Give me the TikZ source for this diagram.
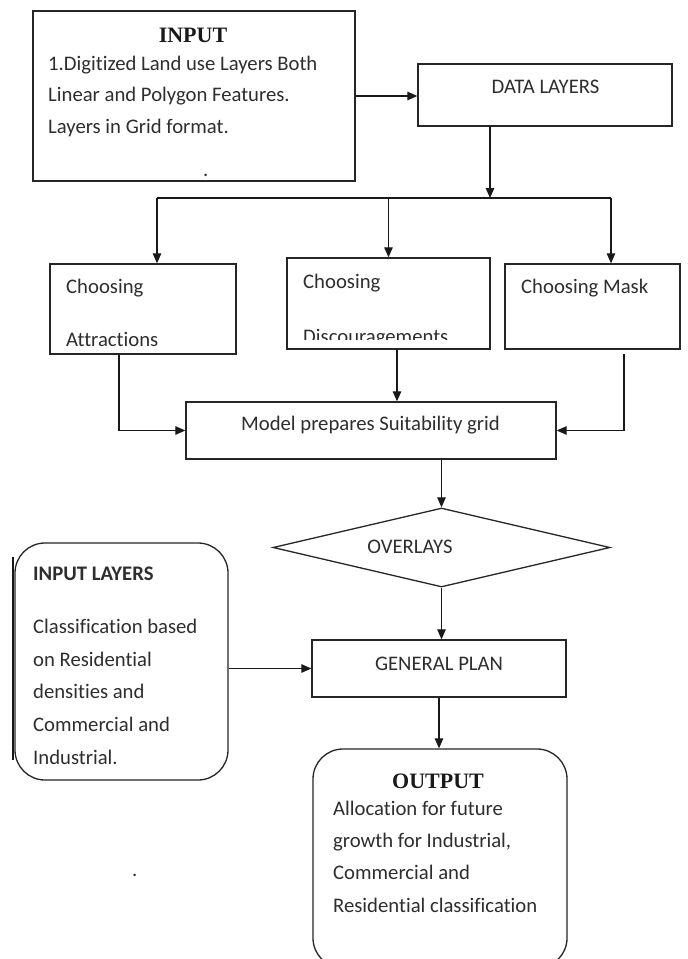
\documentclass[tikz,border=0pt]{standalone}
\usepackage{fontspec}
\setmainfont{Carlito}[Ligatures={NoCommon}]
\newfontfamily\serifttl{Liberation Serif}
\usetikzlibrary{arrows.meta,shapes.geometric}
\begin{document}
\begin{tikzpicture}[x=1pt,y=-1pt,
  box/.style 2 args={draw=black!85, line width=1.3pt, inner sep=0pt,
    minimum width=#1pt, minimum height=#2pt},
  rbox/.style 2 args={box={#1}{#2}, rounded corners=30pt},
  txt/.style={font=\fontsize{20.7}{24}\selectfont, inner sep=0pt,
    anchor=base west, text=black!82},
  ttl/.style={font=\serifttl\bfseries\fontsize{22}{26}\selectfont, inner sep=0pt,
    anchor=base, text=black!90},
  ln/.style={line width=1.2pt, draw=black!90},
  arr/.style={ln, -{Triangle[length=10pt,width=8.5pt]}}]
\useasboundingbox (0,0) rectangle (688,959);
\clip (0,0) rectangle (688,959);
\fill[white] (0,0) rectangle (688,959);

% INPUT
\node[box={322}{170}] (input) at (194,96) {};
\node[ttl] (inputT) at (193,42) {INPUT};
\node[txt] (in1) at (48,70) {1.Digitized Land use Layers Both};
\node[txt] (in2) at (48,101) {Linear and Polygon Features.};
\node[txt] (in3) at (48,133) {Layers in Grid format.};
\node[txt] (dot1) at (203,176) {.};

% DATA LAYERS
\node[box={254}{62}] (dl) at (545,95) {};
\node[txt, anchor=base] (dlT) at (545.5,93) {DATA LAYERS};

\coordinate (split) at (490,198);
\coordinate (barL) at (157,198);
\coordinate (barR) at (611,198);

% Choosing boxes
\node[box={186}{90}] (att) at (143,309) {};
\node[txt] (attT1) at (66,293) {Choosing};
\node[txt] (attT2) at (66,346) {Attractions};

\node[box={203}{91}] (dis) at (388.5,303.5) {};
\node[txt] (disT1) at (303,288) {Choosing};
\begin{scope}
  \clip (289,300) rectangle (488,339);
  \node[txt] (disT2) at (303,343) {Discouragements};
\end{scope}

\node[box={175}{85}] (mask) at (592.5,306.5) {};
\node[txt] (maskT) at (521,293) {Choosing Mask};

% Model
\node[box={370}{57}] (model) at (371,430.5) {};
\node[txt, anchor=base] (modelT) at (370.5,430) {Model prepares Suitability grid};

% Overlays
\node[diamond, draw=black!85, line width=1.3pt, inner sep=0pt,
  minimum width=337pt, minimum height=79pt] (ov) at (441.5,547.5) {};
\node[txt, anchor=base] (ovT) at (410,553) {OVERLAYS};

% General plan
\node[box={254}{57}] (gp) at (439,668.5) {};
\node[txt, anchor=base] (gpT) at (439,670) {GENERAL PLAN};

% Input layers
\node[rbox={213}{237}] (inl) at (121.5,661.5) {};
\draw[ln] (13,557) -- (13,760);
\node[txt, font=\bfseries\fontsize{20.7}{24}\selectfont] (inlT0) at (33,580) {INPUT LAYERS};
\node[txt] (inl1) at (33,633) {Classification based};
\node[txt] (inl2) at (33,666) {on Residential};
\node[txt] (inl3) at (33,698) {densities and};
\node[txt] (inl4) at (33,731) {Commercial and};
\node[txt] (inl5) at (33,764) {Industrial.};

% Output
\node[rbox={254}{219}] (out) at (440,858.5) {};
\node[ttl] (outT) at (438,788) {OUTPUT};
\node[txt] (out1) at (333,815) {Allocation for future};
\node[txt] (out2) at (333,847) {growth for Industrial,};
\node[txt] (out3) at (333,879) {Commercial and};
\node[txt] (out4) at (333,912) {Residential classification};
\node[txt] (dot2) at (132,876) {.};

% Connectors
\draw[arr] (input.east) -- (input.east -| dl.west);
\draw[arr] (dl.south -| split) -- (split);
\draw[ln] (barL) -- (barR);
\draw[arr] (barL) -- (barL |- att.north);
\draw[arr] (dis.north |- split) -- (dis.north);
\draw[arr] (barR) -- (barR |- mask.north);
\coordinate (attx) at (119,0);
\draw[arr] (att.south -| attx) |- (model.west);
\coordinate (disx) at (397,0);
\draw[arr] (dis.south -| disx) -- (model.north -| disx);
\coordinate (mk) at (624,354);
\draw[arr] (mk) |- (model.east);
\draw[arr] (ov.north |- model.south) -- (ov.north);
\draw[arr] (ov.south) -- (ov.south |- gp.north);
\draw[arr] (inl.east |- gp.west) -- (gp.west);
\draw[arr] (gp.south) -- (gp.south |- out.north);
\end{tikzpicture}
\end{document}
